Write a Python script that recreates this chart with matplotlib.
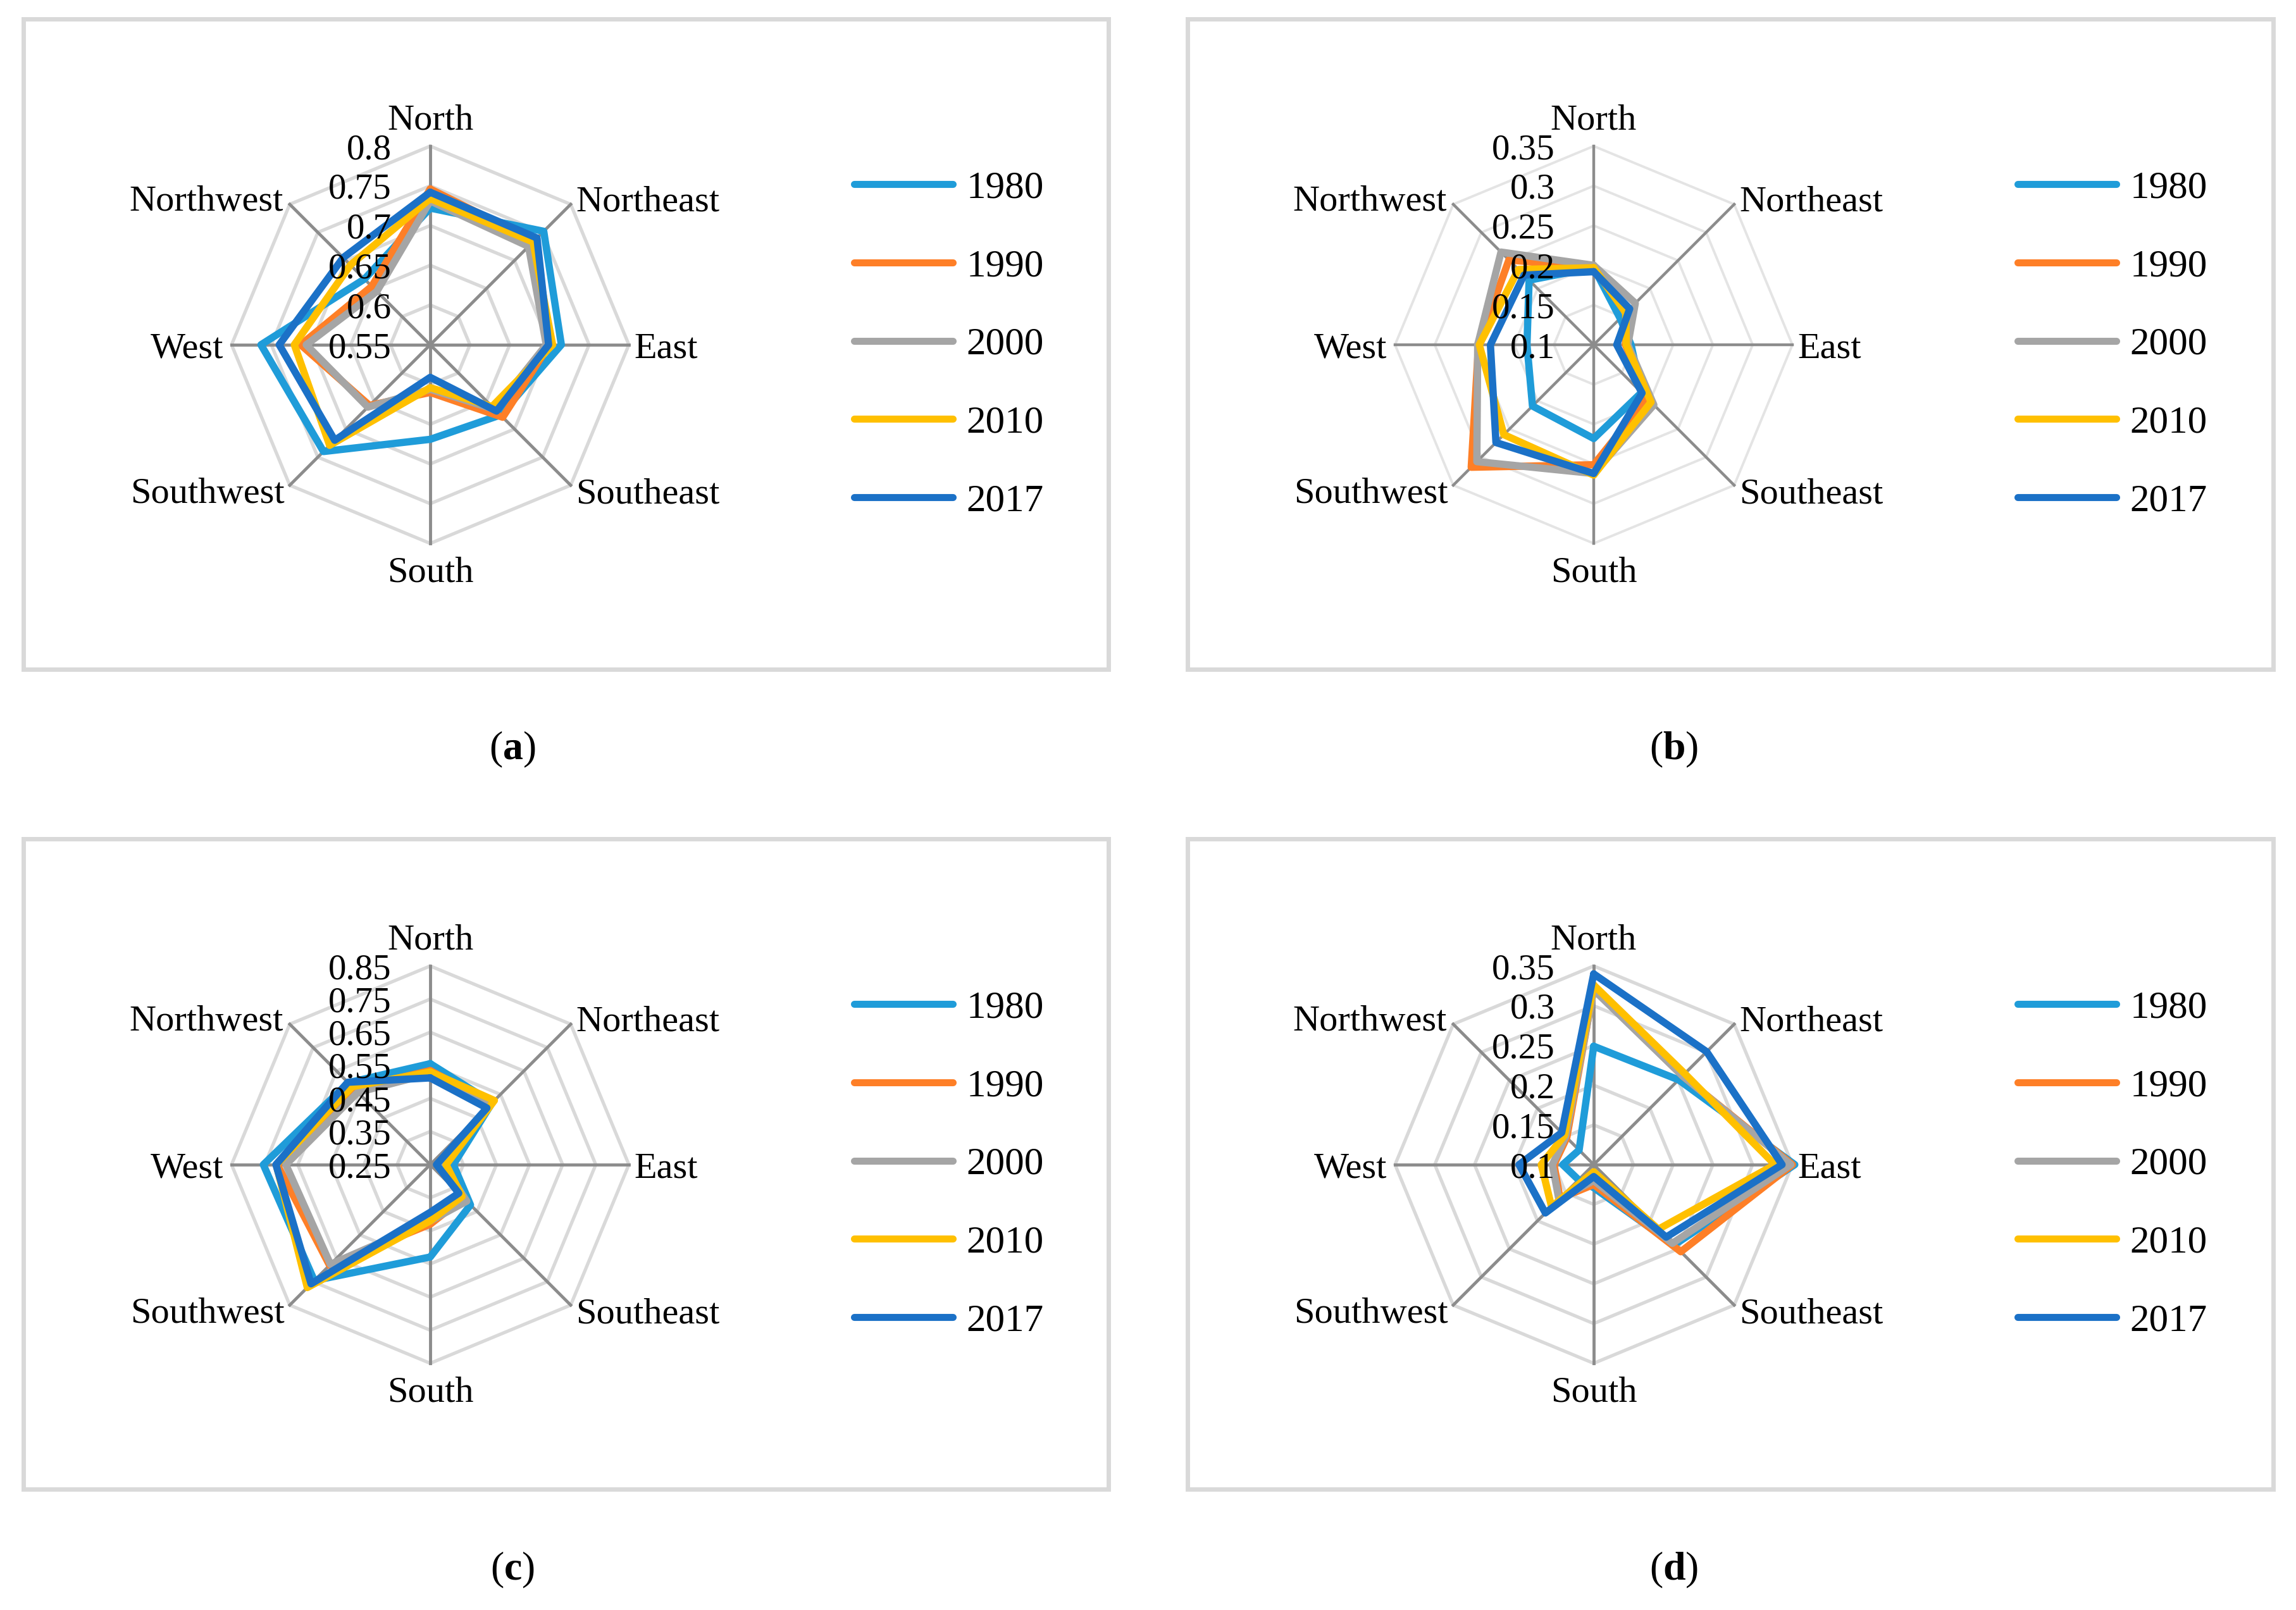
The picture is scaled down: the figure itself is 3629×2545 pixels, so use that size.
import numpy as np
import matplotlib
matplotlib.use('Agg')
import matplotlib.pyplot as plt
from matplotlib.lines import Line2D
from matplotlib.patches import Rectangle

plt.rcParams['font.family'] = ['Liberation Serif', 'DejaVu Serif']
plt.rcParams['mathtext.fontset'] = 'custom'
plt.rcParams['mathtext.rm'] = 'Liberation Serif'
plt.rcParams['mathtext.bf'] = 'Liberation Serif:bold'

directions = ['North', 'Northeast', 'East', 'Southeast', 'South',
              'Southwest', 'West', 'Northwest']
years = ['1980', '1990', '2000', '2010', '2017']
colors = ['#1f9cd9', '#fe7f27', '#a5a5a5', '#ffc000', '#1b71c7']

# (a)
a_ticks = [0.55, 0.6, 0.65, 0.7, 0.75, 0.8]
a_1980 = [0.722, 0.752, 0.715, 0.675, 0.669, 0.740, 0.763, 0.667]
a_1990 = [0.746, 0.735, 0.700, 0.679, 0.610, 0.658, 0.713, 0.654]
a_2000 = [0.731, 0.725, 0.696, 0.665, 0.606, 0.661, 0.706, 0.645]
a_2010 = [0.734, 0.733, 0.704, 0.660, 0.604, 0.729, 0.721, 0.692]
a_2017 = [0.742, 0.740, 0.699, 0.668, 0.591, 0.720, 0.740, 0.705]

# (b)
b_ticks = [0.1, 0.15, 0.2, 0.25, 0.3, 0.35]
b_1980 = [0.197, 0.147, 0.147, 0.185, 0.218, 0.209, 0.184, 0.215]
b_1990 = [0.197, 0.157, 0.140, 0.195, 0.251, 0.318, 0.245, 0.251]
b_2000 = [0.200, 0.174, 0.143, 0.207, 0.262, 0.308, 0.246, 0.265]
b_2010 = [0.197, 0.157, 0.141, 0.202, 0.264, 0.260, 0.244, 0.234]
b_2017 = [0.192, 0.164, 0.129, 0.186, 0.262, 0.274, 0.230, 0.224]

# (c)
c_ticks = [0.25, 0.35, 0.45, 0.55, 0.65, 0.75, 0.85]
c_1980 = [0.555, 0.515, 0.320, 0.422, 0.529, 0.745, 0.754, 0.600]
c_1990 = [0.534, 0.512, 0.290, 0.392, 0.430, 0.680, 0.712, 0.575]
c_2000 = [0.525, 0.508, 0.288, 0.406, 0.420, 0.676, 0.686, 0.559]
c_2010 = [0.530, 0.524, 0.298, 0.386, 0.420, 0.775, 0.715, 0.583]
c_2017 = [0.512, 0.492, 0.269, 0.372, 0.394, 0.759, 0.716, 0.602]

# (d)
d_ticks = [0.1, 0.15, 0.2, 0.25, 0.3, 0.35]
d_1980 = [0.249, 0.251, 0.353, 0.243, 0.129, 0.127, 0.139, 0.126]
d_1990 = [0.322, 0.258, 0.350, 0.255, 0.125, 0.160, 0.150, 0.148]
d_2000 = [0.320, 0.258, 0.348, 0.240, 0.120, 0.162, 0.152, 0.150]
d_2010 = [0.326, 0.262, 0.328, 0.215, 0.109, 0.175, 0.166, 0.152]
d_2017 = [0.340, 0.301, 0.337, 0.229, 0.115, 0.186, 0.194, 0.157]

panel_labels = ['a', 'b', 'c', 'd']

W, H = 3630, 2545
R = 314
FS = 42

fig = plt.figure(figsize=(W / 100, H / 100), dpi=100)


def fx(x):
    return x / W


def fy(y):
    return 1 - y / H


# category label placement: offset (pt), ha, va
label_pos = {
    'North': (0, 19, 'center', 'baseline'),
    'Northeast': (6, 7, 'left', 'center_baseline'),
    'East': (6, 0, 'left', 'center_baseline'),
    'Southeast': (6, -6, 'left', 'center_baseline'),
    'South': (0, -15, 'center', 'top'),
    'Southwest': (-6, -6, 'right', 'center_baseline'),
    'West': (-9, 0, 'right', 'center_baseline'),
    'Northwest': (-7, 7, 'right', 'center_baseline'),
}


def radar(cx, cy, ticks, series, light_grid=False):
    ax = fig.add_axes([fx(cx - R), fy(cy + R), 2 * R / W, 2 * R / H],
                      projection='polar')
    ax.set_theta_zero_location('N')
    ax.set_theta_direction(-1)
    ax.set_ylim(ticks[0], ticks[-1])
    ax.axis('off')

    theta = np.linspace(0, 2 * np.pi, len(directions), endpoint=False)
    closed = np.append(theta, theta[0])

    ring_col = '#e4e4e4' if light_grid else '#d9d9d9'
    ring_lw = 2.8 if light_grid else 3.8
    for v in ticks[1:]:
        ax.plot(closed, [v] * len(closed), color=ring_col, lw=ring_lw,
                zorder=1, clip_on=False, solid_joinstyle='miter')
    for t in theta:
        ax.plot([t, t], [ticks[0], ticks[-1]], color='#8c8c8c',
                lw=3.2 if light_grid else 3.5, zorder=2, clip_on=False)

    for vals, col, yr in zip(series, colors, years):
        ax.plot(closed, list(vals) + [vals[0]], color=col, lw=8.3,
                label=yr, zorder=3, clip_on=False,
                solid_joinstyle='round', solid_capstyle='round')

    for v in ticks:
        ax.annotate(f'{v:g}', xy=(0, v), xytext=(-44, 0),
                    textcoords='offset points', ha='right',
                    va='center_baseline', fontsize=41, zorder=10,
                    annotation_clip=False)

    for t, name in zip(theta, directions):
        dx, dy, ha, va = label_pos[name]
        ax.annotate(name, xy=(t, ticks[-1]), xytext=(dx, dy),
                    textcoords='offset points', ha=ha, va=va,
                    fontsize=FS, annotation_clip=False)

    handles = [Line2D([], [], color=c, lw=8, solid_capstyle='round')
               for c in colors]
    ax.legend(handles, years, loc='center left',
              bbox_to_anchor=(fx(cx + 670), fy(cy)),
              bbox_transform=fig.transFigure, frameon=False, fontsize=44,
              handlelength=2.55, handletextpad=0.36, labelspacing=1.11,
              borderpad=0, borderaxespad=0)
    return ax


panels = [
    (680, 545, a_ticks, [a_1980, a_1990, a_2000, a_2010, a_2017], False),
    (2519, 545, b_ticks, [b_1980, b_1990, b_2000, b_2010, b_2017], True),
    (680, 1841, c_ticks, [c_1980, c_1990, c_2000, c_2010, c_2017], False),
    (2519, 1841, d_ticks, [d_1980, d_1990, d_2000, d_2010, d_2017], False),
]
frames = [(37, 30, 1752, 1058), (1877, 30, 3593, 1058),
          (37, 1326, 1752, 2354), (1877, 1326, 3593, 2354)]
label_xy = [(810, 1185), (2646, 1185), (810, 2482), (2646, 2482)]

for (cx, cy, ticks, series, light), (x0, y0, x1, y1), (lx, ly), lab in zip(
        panels, frames, label_xy, panel_labels):
    fig.add_artist(Rectangle((fx(x0), fy(y1)), (x1 - x0) / W, (y1 - y0) / H,
                             transform=fig.transFigure, fill=False,
                             edgecolor='#d9d9d9', lw=5))
    radar(cx, cy, ticks, series, light)
    fig.text(fx(lx), fy(ly), r'($\mathbf{' + lab + r'}$)', ha='center',
             va='center', fontsize=46)

fig.savefig('out.png', dpi=100, facecolor='white')
